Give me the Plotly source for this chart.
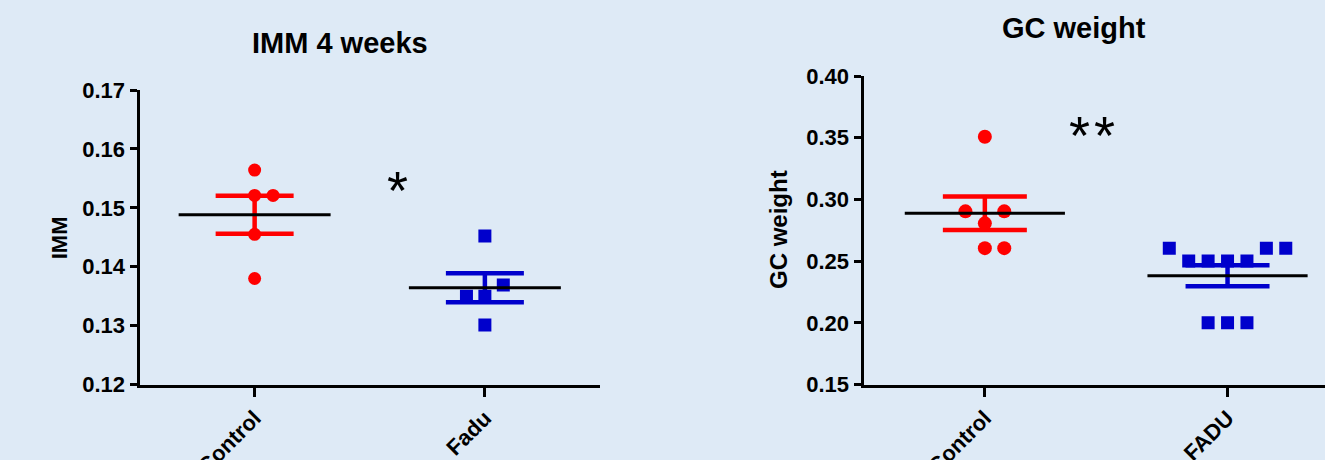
import numpy as np
import plotly.graph_objects as go

# ---------------- data ----------------
imm_categories = ["Control", "Fadu"]
imm_control = [0.1564, 0.1521, 0.1521, 0.1455, 0.1380]
imm_control_dx = [0, 0, 1, 0, 0]          # horizontal dodge slots
imm_fadu = [0.1452, 0.1369, 0.1350, 0.1350, 0.1301]
imm_fadu_dx = [0, 1, -1, 0, 0]

gc_categories = ["Control", "FADU"]
gc_control = [0.3508, 0.2903, 0.2903, 0.2806, 0.2605, 0.2605]
gc_control_dx = [0, -1, 1, 0, 0, 1]
gc_fadu = [0.2605, 0.2605, 0.2605, 0.250, 0.250, 0.250, 0.250, 0.200, 0.200, 0.200]
gc_fadu_dx = [-3, 2, 3, -2, -1, 0, 1, -1, 0, 1]

imm_sig = "*"
gc_sig = "**"

# ---------------- style ----------------
BG = "#DEEAF6"
RED = "#FF0000"
BLUE = "#0000CC"
FONT = "Liberation Sans"
W, H = 1325, 460
STEP = 0.08      # dodge step in category units


def px_x(p):
    return p / W


def px_y(p):
    return 1 - p / H


def mean_sem(v):
    a = np.asarray(v, dtype=float)
    return a.mean(), a.std(ddof=1) / np.sqrt(len(a))


fig = go.Figure()


def add_group(values, dx, pos, color, symbol, msize, xa, ya, capw):
    xs = [pos + d * STEP for d in dx]
    fig.add_trace(go.Scatter(
        x=xs, y=values, mode="markers", xaxis=xa, yaxis=ya,
        marker=dict(color=color, symbol=symbol, size=msize, line=dict(width=0)),
        showlegend=False, hoverinfo="y"))
    m, s = mean_sem(values)
    # SEM error bar
    fig.add_trace(go.Scatter(
        x=[pos], y=[m], mode="markers", xaxis=xa, yaxis=ya,
        marker=dict(size=0.1, color=color, opacity=0),
        error_y=dict(type="data", array=[s], symmetric=True, color=color,
                     thickness=4.5, width=capw),
        showlegend=False, hoverinfo="skip"))
    # mean line
    fig.add_trace(go.Scatter(
        x=[pos], y=[m], mode="markers", xaxis=xa, yaxis=ya,
        marker=dict(size=0.1, color="black", opacity=0),
        error_x=dict(type="data", array=[0.33], symmetric=True, color="black",
                     thickness=3, width=0),
        showlegend=False, hoverinfo="skip"))


add_group(imm_control, imm_control_dx, 0, RED, "circle", 13, "x", "y", 39)
add_group(imm_fadu, imm_fadu_dx, 1, BLUE, "square", 13, "x", "y", 39)
add_group(gc_control, gc_control_dx, 0, RED, "circle", 14, "x2", "y2", 42)
add_group(gc_fadu, gc_fadu_dx, 1, BLUE, "square", 13, "x2", "y2", 42)

tickfont = dict(family=FONT, size=22, color="black", weight="bold")
common_axis = dict(showline=True, linecolor="black", linewidth=3, ticks="outside",
                   tickcolor="black", tickwidth=3, showgrid=False, zeroline=False,
                   automargin=False, tickfont=tickfont)

fig.update_layout(
    width=W, height=H,
    margin=dict(l=0, r=0, t=0, b=0),
    paper_bgcolor=BG, plot_bgcolor=BG,
    showlegend=False,
    xaxis=dict(domain=[px_x(139.5), px_x(600)], range=[-0.5, 1.5], anchor="y",
               tickvals=[0, 1], ticktext=imm_categories, tickangle=-45, ticklen=9,
               **common_axis),
    yaxis=dict(domain=[px_y(384.5), px_y(90)], range=[0.12, 0.17], anchor="x",
               dtick=0.01, tick0=0.12, tickformat=".2f", ticklen=7, **common_axis),
    xaxis2=dict(domain=[px_x(863.5), 1.0], range=[-0.5, 1.4016], anchor="y2",
                tickvals=[0, 1], ticktext=gc_categories, tickangle=-45, ticklen=9,
                **common_axis),
    yaxis2=dict(domain=[px_y(384.5), px_y(76)], range=[0.15, 0.40], anchor="x2",
                dtick=0.05, tick0=0.15, tickformat=".2f", ticklen=7, **common_axis),
)

ann_font = lambda s: dict(family=FONT, size=s, color="black", weight="bold")
fig.add_annotation(text="IMM 4 weeks", xref="paper", yref="paper",
                   x=px_x(339.5), y=px_y(43.5), xanchor="center", yanchor="middle",
                   showarrow=False, font=ann_font(29))
fig.add_annotation(text="GC weight", xref="paper", yref="paper",
                   x=px_x(1073.5), y=px_y(27.7), xanchor="center", yanchor="middle",
                   showarrow=False, font=ann_font(29))
fig.add_annotation(text="IMM", xref="paper", yref="paper",
                   x=px_x(59), y=px_y(238.3), xanchor="center", yanchor="middle",
                   textangle=-90, showarrow=False, font=ann_font(22))
fig.add_annotation(text="GC weight", xref="paper", yref="paper",
                   x=px_x(778.5), y=px_y(229.5), xanchor="center", yanchor="middle",
                   textangle=-90, showarrow=False, font=ann_font(24))
fig.add_annotation(text=imm_sig, xref="x", yref="y", x=0.619, y=0.1530,
                   xanchor="center", yanchor="middle", showarrow=False,
                   font=dict(family=FONT, size=54, color="black"))
fig.add_annotation(text="<span style='letter-spacing:4px'>" + gc_sig + "</span>",
                   xref="x2", yref="y2", x=0.449, y=0.3520,
                   xanchor="center", yanchor="middle", showarrow=False,
                   font=dict(family=FONT, size=54, color="black"))

fig.write_html("out.html",
               config={"displayModeBar": False},
               post_script="document.body.style.margin='0';"
                           "document.body.style.overflow='hidden';")
